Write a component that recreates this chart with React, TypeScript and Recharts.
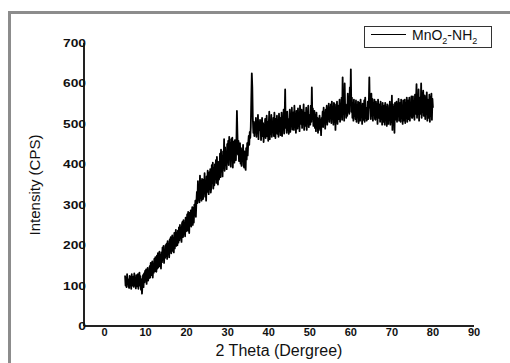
import React from 'react';
import { LineChart, Line, XAxis, YAxis, Customized } from 'recharts';

const thetaStart = 5;
const thetaStep = 0.125;

// 5.000 – 19.875 deg
const intensityA = [
  125, 100, 118, 96, 128, 104, 115, 98,
  94, 124, 102, 120, 92, 128, 100, 116,
  122, 97, 130, 102, 118, 93, 126, 106,
  98, 128, 92, 118, 132, 100, 123, 90,
  115, 80, 104, 126, 96, 130, 108, 136,
  112, 140, 104, 134, 144, 112, 136, 118,
  148, 120, 156, 126, 142, 160, 120, 152,
  132, 166, 136, 170, 146, 134, 174, 142,
  180, 145, 172, 184, 148, 176, 142, 182,
  158, 194, 164, 198, 156, 188, 168, 200,
  172, 204, 166, 210, 180, 202, 170, 214,
  184, 220, 180, 212, 224, 186, 216, 182,
  230, 192, 222, 238, 198, 230, 200, 236,
  206, 244, 212, 250, 218, 242, 208, 254,
  258, 220, 262, 228, 254, 222, 268, 234,
];

// 20.000 – 34.875 deg
const intensityB = [
  242, 276, 236, 282, 250, 230, 280, 254,
  286, 246, 278, 294, 250, 290, 256, 300,
  276, 310, 270, 306, 332, 304, 358, 312,
  350, 306, 372, 316, 358, 310, 364, 322,
  314, 362, 328, 378, 320, 356, 310, 370,
  332, 384, 344, 326, 380, 338, 388, 330,
  342, 398, 354, 404, 340, 390, 348, 400,
  364, 410, 354, 418, 374, 350, 406, 362,
  374, 426, 368, 436, 382, 420, 370, 432,
  390, 462, 384, 442, 398, 430, 388, 450,
  404, 458, 398, 468, 412, 452, 394, 462,
  412, 466, 392, 456, 420, 404, 460, 422,
  410, 456, 532, 476, 424, 458, 408, 450,
  452, 402, 440, 396, 432, 408, 448, 398,
  392, 432, 402, 386, 440, 412, 452, 422,
];

// 35.000 – 49.875 deg
const intensityC = [
  452, 470, 448, 480, 465, 492, 560, 625,
  590, 512, 478, 505, 470, 498, 482, 515,
  468, 505, 478, 522, 462, 498, 484, 510,
  505, 460, 492, 515, 470, 502, 455, 488,
  478, 512, 465, 496, 520, 470, 505, 458,
  498, 530, 462, 510, 475, 522, 468, 505,
  482, 515, 470, 528, 490, 465, 512, 478,
  520, 475, 508, 468, 525, 482, 515, 472,
  480, 528, 470, 512, 488, 535, 476, 515,
  585, 490, 520, 478, 530, 485, 512, 475,
  492, 535, 480, 518, 502, 540, 486, 525,
  528, 485, 545, 492, 515, 478, 532, 498,
  488, 538, 495, 522, 482, 545, 500, 518,
  535, 490, 520, 502, 548, 485, 528, 495,
  498, 540, 485, 528, 505, 545, 492, 522,
];

// 50.000 – 64.875 deg
const intensityD = [
  520, 498, 545, 505, 590, 512, 538, 495,
  508, 532, 490, 520, 482, 528, 498, 515,
  478, 512, 490, 520, 485, 508, 472, 515,
  500, 530, 492, 540, 505, 525, 488, 535,
  512, 545, 498, 538, 520, 550, 505, 532,
  525, 548, 502, 555, 515, 540, 498, 552,
  505, 548, 485, 540, 520, 555, 500, 535,
  545, 512, 560, 505, 538, 520, 565, 510,
  615, 525, 560, 508, 600, 530, 548, 515,
  545, 520, 575, 530, 560, 525, 590, 548,
  635, 530, 565, 515, 552, 508, 560, 520,
  548, 512, 558, 505, 545, 520, 555, 502,
  515, 552, 508, 560, 525, 545, 500, 550,
  548, 510, 558, 505, 565, 515, 540, 508,
  520, 555, 512, 548, 615, 540, 560, 512,
];

// 65.000 – 80.000 deg
const intensityE = [
  575, 520, 562, 508, 552, 525, 560, 512,
  510, 555, 520, 548, 500, 560, 515, 545,
  548, 505, 555, 512, 540, 498, 552, 510,
  505, 545, 498, 552, 512, 540, 495, 548,
  545, 500, 538, 510, 555, 498, 542, 505,
  570, 485, 548, 505, 540, 478, 552, 510,
  512, 555, 505, 548, 520, 562, 508, 550,
  552, 505, 560, 515, 545, 500, 558, 512,
  508, 560, 502, 552, 515, 565, 505, 555,
  558, 512, 565, 508, 550, 520, 568, 515,
  515, 568, 520, 555, 510, 572, 525, 560,
  598, 515, 570, 525, 585, 508, 565, 530,
  525, 600, 515, 575, 530, 582, 520, 568,
  570, 512, 565, 525, 578, 508, 560, 520,
  515, 572, 505, 565, 520, 575, 510, 562,
  540,
];

const xTicks = [0, 10, 20, 30, 40, 50, 60, 70, 80, 90];
const yTicks = [0, 100, 200, 300, 400, 500, 600, 700];
const xTitle = '2 Theta (Dergree)';
const yTitle = 'Intensity (CPS)';

const intensities = [...intensityA, ...intensityB, ...intensityC, ...intensityD, ...intensityE];
const data = intensities.map((cps, i) => ({ theta: thetaStart + i * thetaStep, cps }));

const FONT = '"Liberation Sans", Arial, sans-serif';

const YTick = (props: any) => {
  const { x, y, payload } = props;
  return (
    <g transform={`translate(${x + 2},${y}) scale(1.25,1)`}>
      <text x={0} y={0} dy="0.36em" textAnchor="end" fontSize={11} fontWeight="bold" fontFamily={FONT} fill="#111">
        {payload.value}
      </text>
    </g>
  );
};

const XTick = (props: any) => {
  const { x, y, payload } = props;
  return (
    <text x={x} y={y + 9.5} textAnchor="middle" fontSize={11} fontWeight="bold" fontFamily={FONT} fill="#111">
      {payload.value}
    </text>
  );
};

const Decor = () => (
  <g>
    <text x={279} y={356} textAnchor="middle" fontSize={16} fontFamily={FONT} fill="#111">
      {xTitle}
    </text>
    <text
      x={0}
      y={0}
      transform="translate(40,185) rotate(-90)"
      textAnchor="middle"
      fontSize={15}
      fontFamily={FONT}
      fill="#111"
    >
      {yTitle}
    </text>
    <rect x={364.5} y={26.5} width={127} height={21} fill="#fff" stroke="#333" strokeWidth={1} />
    <line x1={371} x2={406} y1={34.5} y2={34.5} stroke="#000" strokeWidth={1} />
    <text x={412} y={40} fontSize={14} fontFamily={FONT} fill="#111">
      MnO
      <tspan fontSize={9} dy={4}>2</tspan>
      <tspan dy={-4}>-NH</tspan>
      <tspan fontSize={9} dy={4}>2</tspan>
    </text>
  </g>
);

export default function App() {
  return (
    <div style={{ position: 'fixed', left: 0, top: 0, width: 510, height: 363, overflow: 'hidden', background: '#fff' }}>
      <div
        style={{
          position: 'absolute',
          left: 8,
          top: 11,
          width: 700,
          height: 600,
          border: '3px solid #8c8c8c',
          boxSizing: 'border-box',
        }}
      />
      <div style={{ position: 'absolute', left: 0, top: 0 }}>
        <LineChart width={510} height={363} data={data} margin={{ top: 43, right: 36, left: 4, bottom: 7 }}>
          <XAxis
            dataKey="theta"
            type="number"
            domain={[-5, 90]}
            ticks={xTicks}
            allowDataOverflow
            height={30}
            tickLine={false}
            tickSize={0}
            tickMargin={0}
            axisLine={{ stroke: '#222', strokeWidth: 2 }}
            tick={<XTick />}
            interval={0}
          />
          <YAxis
            type="number"
            domain={[0, 700]}
            ticks={yTicks}
            width={80}
            tickLine={false}
            tickSize={0}
            tickMargin={0}
            axisLine={{ stroke: '#222', strokeWidth: 2 }}
            tick={<YTick />}
            interval={0}
          />
          <Line
            dataKey="cps"
            type="linear"
            stroke="#000"
            strokeWidth={1.8}
            strokeLinejoin="round"
            dot={false}
            isAnimationActive={false}
            name="MnO2-NH2"
          />
          <Customized component={Decor} />
        </LineChart>
      </div>
    </div>
  );
}
